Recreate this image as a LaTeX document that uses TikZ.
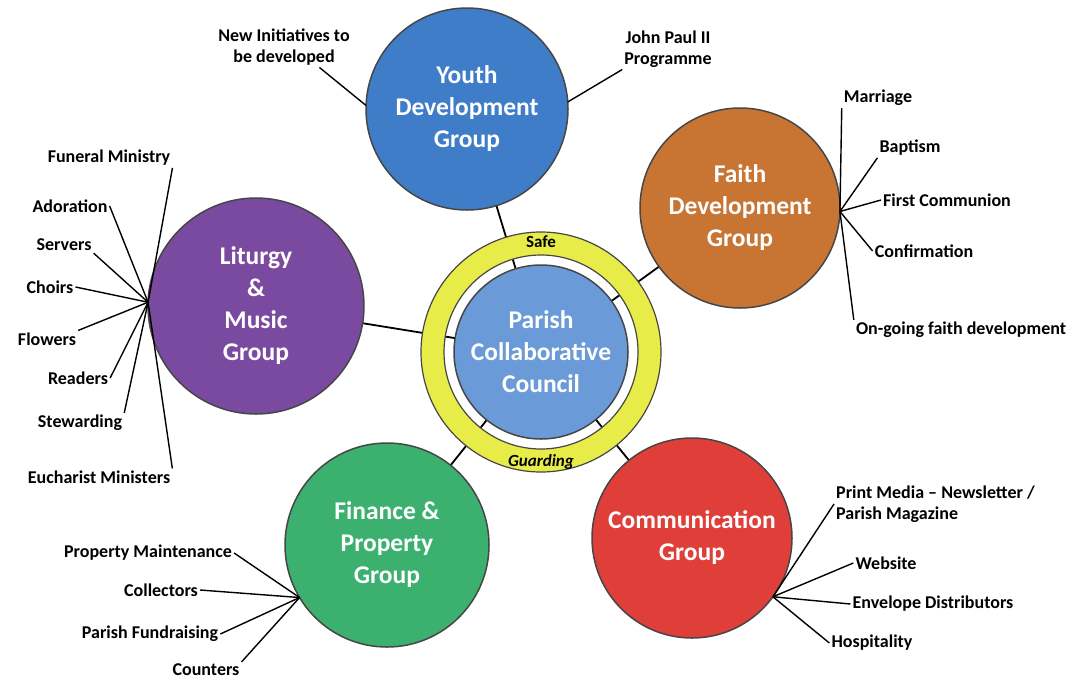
\documentclass[tikz,border=0pt]{standalone}
\usepackage{fontspec}
\setmainfont{Carlito}
\usetikzlibrary{backgrounds}
\definecolor{youthblue}{RGB}{64,125,200}
\definecolor{faithorange}{RGB}{200,117,52}
\definecolor{liturgypurple}{RGB}{122,74,160}
\definecolor{financegreen}{RGB}{60,176,110}
\definecolor{commred}{RGB}{224,62,56}
\definecolor{councilblue}{RGB}{106,155,216}
\definecolor{ringyellow}{RGB}{232,236,72}
\definecolor{rimgray}{RGB}{70,70,70}

\begin{document}
\begin{tikzpicture}[x=1pt,y=-1pt,
    group node/.style={circle,draw=rimgray,line width=1.5pt,outer sep=0pt,inner sep=0pt,
      align=center,text=white,font=\fontsize{25.5}{32}\selectfont\bfseries},
    leaf/.style={inner sep=2pt,align=center,font=\fontsize{18}{21}\selectfont\bfseries},
    twig/.style={line width=1.4pt},
    spoke/.style={line width=1.8pt}]

    \useasboundingbox (0,0) rectangle (1078,681);

    \node[group node,fill=youthblue,minimum size=202pt] (YDG) at (467,109) {Youth\\Development\\Group};
    \node[group node,fill=faithorange,minimum size=200pt] (FDG) at (740,208) {Faith\\Development\\Group};
    \node[group node,fill=liturgypurple,minimum size=216pt] (LMG) at (256,306) {Liturgy\\\&\\Music\\Group};
    \node[group node,fill=financegreen,minimum size=204pt] (FPG) at (387,545) {Finance \&\\Property\\Group};
    \node[group node,fill=commred,minimum size=200pt] (CG) at (692,538) {Communication\\Group};

    \draw[draw=rimgray,line width=1.2pt,fill=ringyellow,even odd rule]
      (541,352) circle (120pt) circle (97pt);
    \node[group node,fill=councilblue,minimum size=174pt] (PCC) at (541,352) {Parish\\Collaborative\\Council};
    \node[leaf,font=\fontsize{17}{20}\selectfont\bfseries] (safe) at (541,242) {Safe};
    \node[leaf,font=\fontsize{17}{20}\selectfont\bfseries\itshape] (guard) at (541,462) {Guarding};

    \begin{scope}[on background layer]
      \path[spoke]
      (YDG) edge (PCC)
      (FDG) edge (PCC)
      (LMG) edge (PCC)
      (FPG) edge (PCC)
      (CG) edge (PCC);
    \end{scope}

    \node[leaf] (new) at (284,47) {New Initiatives to\\be developed};
    \node[leaf] (jp2) at (668,49) {John Paul II\\Programme};

    \node[leaf] (fun) at (109,158) {Funeral Ministry};
    \node[leaf] (ado) at (70,206) {Adoration};
    \node[leaf] (srv) at (64,245) {Servers};
    \node[leaf] (cho) at (50,287) {Choirs};
    \node[leaf] (flo) at (47,339) {Flowers};
    \node[leaf] (rea) at (78,378) {Readers};
    \node[leaf] (stw) at (80,423) {Stewarding};
    \node[leaf] (euc) at (99,477) {Eucharist Ministers};

    \node[leaf] (mar) at (878,98) {Marriage};
    \node[leaf] (bap) at (910,148) {Baptism};
    \node[leaf] (fcm) at (947,200) {First Communion};
    \node[leaf] (cnf) at (924,251) {Confirmation};
    \node[leaf] (ong) at (961,330) {On-going faith development};

    \node[leaf] (prm) at (148,553) {Property Maintenance};
    \node[leaf] (col) at (161,590) {Collectors};
    \node[leaf] (pfr) at (150,634) {Parish Fundraising};
    \node[leaf] (cnt) at (206,670) {Counters};

    \node[leaf,align=left,anchor=west] (prt) at (834,504) {Print Media – Newsletter /\\Parish Magazine};
    \node[leaf] (web) at (886,563) {Website};
    \node[leaf] (env) at (933,604) {Envelope Distributors};
    \node[leaf] (hos) at (872,643) {Hospitality};

    \path[twig]
    (YDG.178) edge (new.-30)
    (YDG.4) edge (jp2.south west);

    \path[twig]
    (LMG.178) edge (fun.south east)
    (LMG.178) edge (ado.east)
    (LMG.178) edge (srv.south east)
    (LMG.178) edge (cho.east)
    (LMG.178) edge (flo.north east)
    (LMG.178) edge (rea.east)
    (LMG.178) edge (stw.north east)
    (LMG.178) edge (euc.north east);

    \path[twig]
    (FDG.-2) edge (mar.south west)
    (FDG.-2) edge (bap.south west)
    (FDG.-2) edge (fcm.west)
    (FDG.-2) edge (cnf.west)
    (FDG.-2) edge (ong.north west);

    \path[twig]
    (FPG.211) edge (prm.east)
    (FPG.211) edge (col.east)
    (FPG.211) edge (pfr.east)
    (FPG.211) edge (cnt.north east);

    \path[twig]
    (CG.-36) edge (prt.west)
    (CG.-36) edge (web.west)
    (CG.-36) edge (env.west)
    (CG.-36) edge (hos.west);

\end{tikzpicture}
\end{document}
